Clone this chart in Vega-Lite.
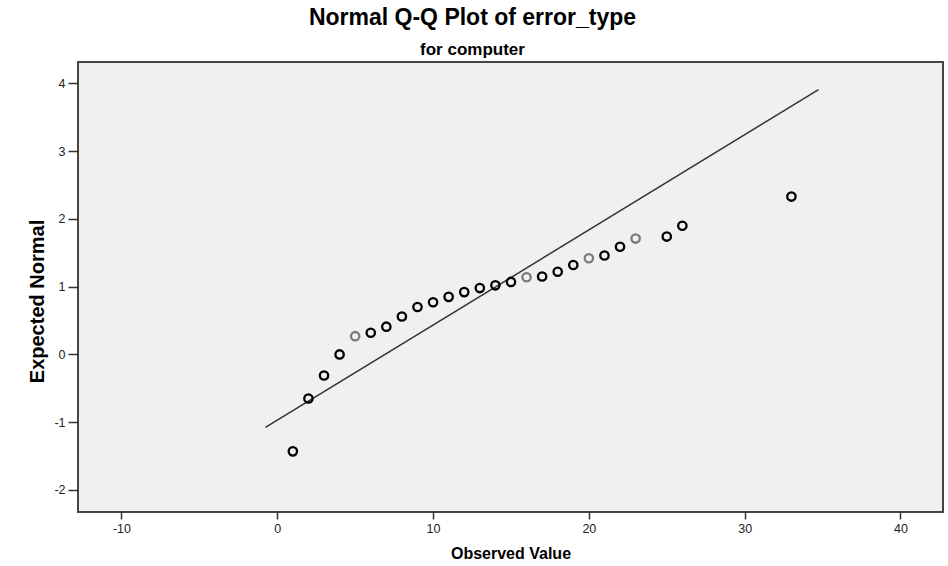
{
  "$schema": "https://vega.github.io/schema/vega-lite/v6.json",
  "width": 865,
  "height": 450,
  "autosize": {"type": "none"},
  "padding": {"left": 78, "top": 62, "right": 5, "bottom": 54},
  "background": "white",
  "config": {
    "view": {"fill": "#f0f0f0", "stroke": "#444444", "strokeWidth": 2},
    "font": "Liberation Sans"
  },
  "title": {
    "text": "Normal Q-Q Plot of error_type",
    "subtitle": "for computer",
    "anchor": "middle",
    "frame": "group",
    "dx": -38,
    "font": "Liberation Sans",
    "fontSize": 23,
    "fontWeight": "bold",
    "color": "#000000",
    "subtitleFont": "Liberation Sans",
    "subtitleFontSize": 17,
    "subtitleFontWeight": "bold",
    "subtitleColor": "#000000",
    "subtitlePadding": 12,
    "offset": 4
  },
  "datasets": {
    "points": [
      {"observed": 1, "expected": -1.43, "cases": "multiple"},
      {"observed": 2, "expected": -0.65, "cases": "multiple"},
      {"observed": 3, "expected": -0.31, "cases": "multiple"},
      {"observed": 4, "expected": 0.0, "cases": "multiple"},
      {"observed": 5, "expected": 0.27, "cases": "single"},
      {"observed": 6, "expected": 0.32, "cases": "multiple"},
      {"observed": 7, "expected": 0.41, "cases": "multiple"},
      {"observed": 8, "expected": 0.56, "cases": "multiple"},
      {"observed": 9, "expected": 0.70, "cases": "multiple"},
      {"observed": 10, "expected": 0.77, "cases": "multiple"},
      {"observed": 11, "expected": 0.85, "cases": "multiple"},
      {"observed": 12, "expected": 0.92, "cases": "multiple"},
      {"observed": 13, "expected": 0.98, "cases": "multiple"},
      {"observed": 14, "expected": 1.02, "cases": "multiple"},
      {"observed": 15, "expected": 1.07, "cases": "multiple"},
      {"observed": 16, "expected": 1.14, "cases": "single"},
      {"observed": 17, "expected": 1.15, "cases": "multiple"},
      {"observed": 18, "expected": 1.22, "cases": "multiple"},
      {"observed": 19, "expected": 1.32, "cases": "multiple"},
      {"observed": 20, "expected": 1.42, "cases": "single"},
      {"observed": 21, "expected": 1.46, "cases": "multiple"},
      {"observed": 22, "expected": 1.59, "cases": "multiple"},
      {"observed": 23, "expected": 1.71, "cases": "single"},
      {"observed": 25, "expected": 1.74, "cases": "multiple"},
      {"observed": 26, "expected": 1.90, "cases": "multiple"},
      {"observed": 33, "expected": 2.33, "cases": "multiple"}
    ],
    "line": [
      {"observed": -0.76, "expected": -1.076},
      {"observed": 34.74, "expected": 3.907}
    ]
  },
  "encoding": {
    "x": {
      "field": "observed",
      "type": "quantitative",
      "scale": {"domain": [-12.79, 42.73], "nice": false, "zero": false},
      "axis": {
        "title": "Observed Value",
        "values": [-10, 0, 10, 20, 30, 40],
        "labelExpr": "toString(datum.value)",
        "grid": false,
        "domain": false,
        "tickColor": "#333333",
        "tickSize": 7,
        "tickWidth": 1.5,
        "labelFont": "Liberation Sans",
        "labelFontSize": 12.5,
        "labelColor": "#222222",
        "labelPadding": 3,
        "titleFont": "Liberation Sans",
        "titleFontSize": 16,
        "titleFontWeight": "bold",
        "titleColor": "#000000",
        "titleBaseline": "middle",
        "titleY": 41
      }
    },
    "y": {
      "field": "expected",
      "type": "quantitative",
      "scale": {"domain": [-2.325, 4.316], "nice": false, "zero": false},
      "axis": {
        "title": "Expected Normal",
        "values": [-2, -1, 0, 1, 2, 3, 4],
        "labelExpr": "toString(datum.value)",
        "grid": false,
        "domain": false,
        "tickColor": "#333333",
        "tickSize": 10,
        "tickWidth": 1.5,
        "labelFont": "Liberation Sans",
        "labelFontSize": 12.5,
        "labelColor": "#222222",
        "labelPadding": 3,
        "titleFont": "Liberation Sans",
        "titleFontSize": 20,
        "titleFontWeight": "bold",
        "titleColor": "#000000",
        "titleAngle": -90,
        "titleAlign": "center",
        "titleBaseline": "middle",
        "titleX": -41,
        "titleY": 239
      }
    }
  },
  "layer": [
    {
      "data": {"name": "line"},
      "mark": {"type": "line", "color": "#333333", "strokeWidth": 1.5},
      "encoding": {}
    },
    {
      "data": {"name": "points"},
      "mark": {"type": "point", "shape": "circle", "filled": false, "size": 70, "strokeWidth": 2.3, "opacity": 1},
      "encoding": {
        "color": {
          "field": "cases",
          "type": "nominal",
          "scale": {"domain": ["multiple", "single"], "range": ["#000000", "#7a7a7a"]},
          "legend": null
        }
      }
    }
  ]
}
